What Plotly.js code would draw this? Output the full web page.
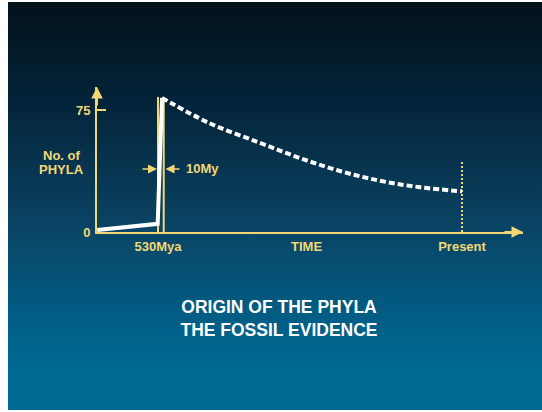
<!DOCTYPE html>
<html><head><meta charset="utf-8">
<script src="https://cdn.plot.ly/plotly-3.0.1.min.js"></script>
<style>
html,body{margin:0;padding:0;background:#fff;}
#wrap{position:relative;width:542px;height:412px;background:#fff;overflow:hidden}
#bg{position:absolute;left:8px;top:2px;width:534px;height:408px;
 background:linear-gradient(to bottom,#02121b 0%,#021a29 12%,#03243a 25%,#08344f 40%,#0a4464 55%,#04557a 70%,#00628b 82%,#006a94 90%,#006a94 100%);}
#chart{position:absolute;left:0;top:0;width:542px;height:412px}
</style></head>
<body><div id="wrap"><div id="bg"></div><div id="chart"></div></div>
<script>
// Data (time in millions of years ago, number of phyla)
const earlyMya   = [636, 530.5, 523];
const earlyPhyla = [1.2, 5, 82.4];
const laterMya   = [523, 441, 354, 283, 213, 143, 73, 0];
const laterPhyla = [82.4, 67, 55, 45.5, 37.5, 31.5, 27.5, 25];
const windowMya  = [530, 520];      // 10 My window
const windowTop  = [83, 81];
const presentMya = 0;
const presentTop = 43;
const yTickVals  = [0, 75];
const yTickText  = ['0', '75'];
const xTickVals  = [530, 0];
const xTickText  = ['530Mya', 'Present'];

const YEL = '#f2d874';
const FONT = 'Liberation Sans, Arial, sans-serif';
const xMin = 636.3, xMax = -106.3, yMax = 89.1;

// pixel helpers for text placement
const px2x = p => 530 - (p - 158) / 0.5736;
const py2y = p => (232 - p) / 1.6267;
const pxP = p => (p - 97) / 426;
const pyP = p => (232 - p) / 145;

const traces = [
  {x:[windowMya[0],windowMya[0]], y:[0,windowTop[0]], mode:'lines', line:{color:YEL,width:2}, cliponaxis:false},
  {x:[windowMya[1],windowMya[1]], y:[0,windowTop[1]], mode:'lines', line:{color:YEL,width:2}, cliponaxis:false},
  {x:[presentMya,presentMya], y:[0,presentTop], mode:'lines', line:{color:YEL,width:2,dash:'2px,2px'}, cliponaxis:false},
  {x:earlyMya, y:earlyPhyla, mode:'lines', line:{color:'#ffffff',width:4}, cliponaxis:false},
  {x:laterMya, y:laterPhyla, mode:'lines', line:{color:'#ffffff',width:4,shape:'spline',smoothing:1,dash:'6px,3px'}, cliponaxis:false}
];

const tf = {family:FONT, size:13, color:YEL};
const annotations = [
  {xref:'paper', yref:'paper', x:pxP(61), y:pyP(155), text:'<b>No. of</b>', showarrow:false, font:tf, xanchor:'center', yanchor:'middle'},
  {xref:'paper', yref:'paper', x:pxP(61), y:pyP(169), text:'<b>PHYLA</b>', showarrow:false, font:tf, xanchor:'center', yanchor:'middle'},
  {xref:'paper', yref:'paper', x:pxP(306), y:pyP(246), text:'<b>TIME</b>', showarrow:false, font:tf, xanchor:'center', yanchor:'middle'},
  {x:px2x(184), y:py2y(169), text:'<b>10My</b>', showarrow:false, font:tf, xanchor:'left', yanchor:'middle'},
  // 10My arrows
  {x:px2x(157), y:py2y(169), ax:px2x(141), ay:py2y(169), axref:'x', ayref:'y', text:'', showarrow:true,
   arrowhead:2, arrowsize:1.2, arrowwidth:1.5, arrowcolor:YEL, standoff:0},
  {x:px2x(165.5), y:py2y(169), ax:px2x(181), ay:py2y(169), axref:'x', ayref:'y', text:'', showarrow:true,
   arrowhead:2, arrowsize:1.2, arrowwidth:1.5, arrowcolor:YEL, standoff:0},
  // axis arrowheads
  {x:xMin, y:yMax, ax:0, ay:20, text:'', showarrow:true, arrowhead:2, arrowsize:1.15, arrowwidth:2, arrowcolor:YEL, standoff:0},
  {x:xMax, y:0, ax:-20, ay:0, text:'', showarrow:true, arrowhead:2, arrowsize:1.15, arrowwidth:2, arrowcolor:YEL, standoff:0}
];

const layout = {
  width:542, height:412,
  margin:{l:97, r:19, t:87, b:180, pad:0},
  paper_bgcolor:'rgba(0,0,0,0)', plot_bgcolor:'rgba(0,0,0,0)',
  showlegend:false,
  title:{text:'<b>ORIGIN OF THE PHYLA<br>THE FOSSIL EVIDENCE</b>', font:{family:FONT,size:17.5,color:'#ffffff'},
         x:279/542, xanchor:'center', y:1-313/412, yanchor:'middle', xref:'container', yref:'container'},
  xaxis:{range:[xMin,xMax], showgrid:false, zeroline:false, showline:true, linecolor:YEL, linewidth:2,
         tickmode:'array', tickvals:xTickVals, ticktext:xTickText.map(t=>'<b>'+t+'</b>'), ticks:'',
         tickfont:tf, fixedrange:true, ticklabelstandoff:1},
  yaxis:{range:[0,yMax], showgrid:false, zeroline:false, showline:true, linecolor:YEL, linewidth:2,
         tickmode:'array', tickvals:yTickVals, ticktext:yTickText.map(t=>'<b>'+t+'</b>'), ticks:'inside',
         ticklen:9, tickwidth:2, tickcolor:YEL, tickfont:tf, fixedrange:true, ticklabelstandoff:2},
  annotations:annotations
};

Plotly.newPlot('chart', traces, layout, {displayModeBar:false, staticPlot:true});
</script>
</body></html>
